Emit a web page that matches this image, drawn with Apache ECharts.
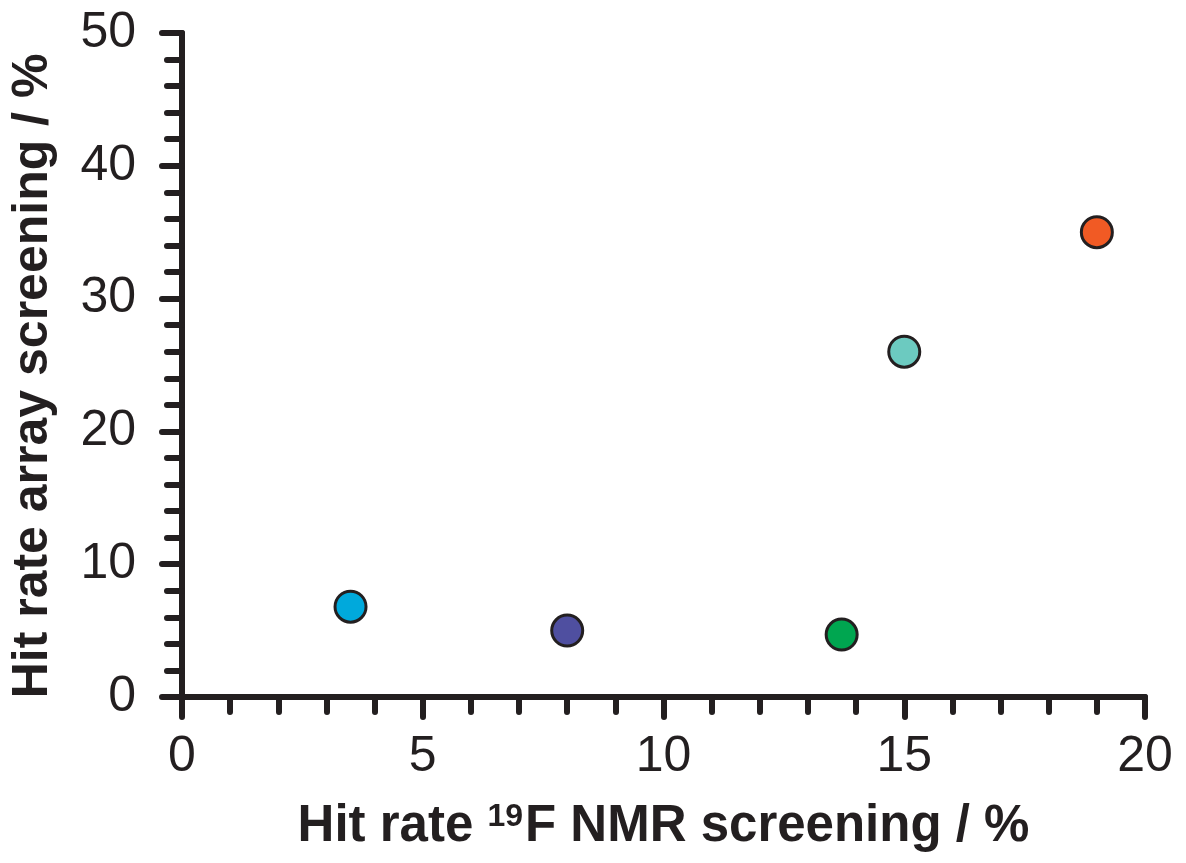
<!DOCTYPE html>
<html>
<head>
<meta charset="utf-8">
<script src="https://cdn.jsdelivr.net/npm/echarts@6/dist/echarts.min.js"></script>
<style>
    html, body { margin: 0; padding: 0; background: #fff; }
    #chart { width: 1186px; height: 863px; }
</style>
</head>
<body>
<div id="chart"></div>
<script>
    // hit rate 19F NMR screening (x) vs array screening (y), in %
    var nmrRate = [3.5, 8.0, 13.7, 15.0, 19.0];
    var arrayRate = [6.8, 5.0, 4.7, 26.0, 35.0];
    var pointColors = ['#00a9dc', '#4f4fa0', '#00a650', '#6ccac0', '#f15a24'];

    var ink = '#231f20';

    var points = nmrRate.map(function (x, i) {
        return {
            value: [x, arrayRate[i]],
            itemStyle: { color: pointColors[i] }
        };
    });

    var axisCommon = {
        type: 'value',
        axisLine: { lineStyle: { color: ink, width: 6, cap: 'round' } },
        axisTick: { length: 20, lineStyle: { color: ink, width: 6, cap: 'round' } },
        minorTick: { show: true, splitNumber: 5, length: 15, lineStyle: { color: ink, width: 6, cap: 'round' } },
        splitLine: { show: false },
        axisLabel: { color: ink, fontSize: 50, fontFamily: 'Liberation Sans' },
        nameLocation: 'middle',
        nameTextStyle: { color: ink, fontSize: 50, fontWeight: 'bold', fontFamily: 'Liberation Sans' }
    };

    var chart = echarts.init(document.getElementById('chart'));
    chart.setOption({
        animation: false,
        grid: { left: 180, right: 41, top: 33, bottom: 166 },
        xAxis: Object.assign({}, axisCommon, {
            min: 0, max: 20, interval: 5,
            axisLabel: Object.assign({}, axisCommon.axisLabel, { margin: 35 }),
            name: 'Hit rate {sup|19}F NMR screening / %',
            nameGap: 104,
            nameTextStyle: Object.assign({}, axisCommon.nameTextStyle, {
                fontSize: 51,
                rich: {
                    sup: { fontSize: 32, fontWeight: 'bold', color: ink, fontFamily: 'Liberation Sans', verticalAlign: 'top', padding: [0, 2, 14, 0] }
                }
            })
        }),
        yAxis: Object.assign({}, axisCommon, {
            min: 0, max: 50, interval: 10,
            axisLabel: Object.assign({}, axisCommon.axisLabel, { margin: 46 }),
            name: 'Hit rate array screening / %',
            nameGap: 124,
            nameTextStyle: Object.assign({}, axisCommon.nameTextStyle, { padding: [0, 22, 0, 0] })
        }),
        series: [{
            type: 'scatter',
            symbol: 'circle',
            symbolSize: 31,
            itemStyle: { borderColor: ink, borderWidth: 3, opacity: 1 },
            data: points
        }]
    });
</script>
</body>
</html>
